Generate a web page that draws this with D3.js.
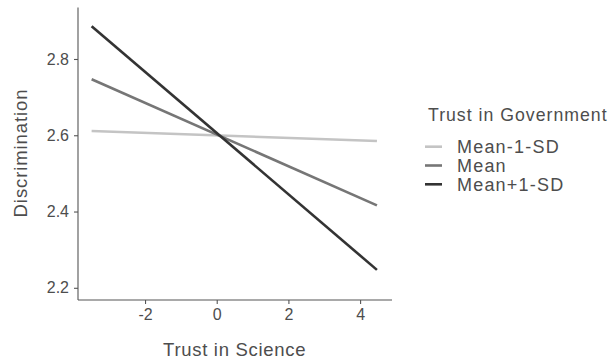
<!DOCTYPE html>
<html>
<head>
<meta charset="utf-8">
<script src="https://cdn.jsdelivr.net/npm/d3@7"></script>
<style>
  body { margin: 0; background: #fff; }
  text { font-family: "Liberation Sans", Arial, sans-serif; }
</style>
</head>
<body>
<div id="vis"></div>
<script>
var w = 614;
var h = 364;

// simple slopes, two ends per level
var levels = ['Mean-1-SD', 'Mean', 'Mean+1-SD'];
var colors = ['#c4c4c4', '#767676', '#333333'];
var xEnds = [-3.49, 4.47];
var yLow = [2.611, 2.585];
var yMid = [2.747, 2.416];
var yHigh = [2.886, 2.247];
var xTicks = [-2, 0, 2, 4];
var yTicks = [2.2, 2.4, 2.6, 2.8];

var series = [yLow, yMid, yHigh];

var margin = {left: 78, right: 222, top: 7.5, bottom: 64};

var svg = d3.select("#vis").append("svg")
    .attr("width", w)
    .attr("height", h);

var x = d3.scaleLinear()
    .domain([-3.87, 4.89])
    .range([margin.left, w - margin.right]);

var y = d3.scaleLinear()
    .domain([2.168, 2.935])
    .range([h - margin.bottom, margin.top]);

var line = d3.line()
    .x(function(d, i) { return x(xEnds[i]); })
    .y(function(d) { return y(d); });

// lines
svg.selectAll(".trend")
    .data(series)
    .enter()
    .append("path")
    .attr("class", "trend")
    .attr("d", line)
    .attr("fill", "none")
    .attr("stroke", function(d, i) { return colors[i]; })
    .attr("stroke-width", 2.6);

// axes (plain hyphen for negatives, like the original)
var xAxis = svg.append("g")
    .attr("transform", "translate(0," + (h - margin.bottom) + ")")
    .call(d3.axisBottom(x).tickValues(xTicks).tickSize(4).tickPadding(5).tickFormat(function(d) { return String(d); }));

var yAxis = svg.append("g")
    .attr("transform", "translate(" + margin.left + ",0)")
    .call(d3.axisLeft(y).tickValues(yTicks).tickSize(4).tickPadding(5).tickFormat(function(d) { return d.toFixed(1); }));

[xAxis, yAxis].forEach(function(a) {
    a.select(".domain").attr("stroke", "#555").attr("stroke-width", 1.1);
    a.selectAll(".tick line").attr("stroke", "#555").attr("stroke-width", 1.1);
    a.selectAll(".tick text")
        .attr("fill", "#4d4d4d")
        .style("font-size", "16px")
        .style("font-family", "'Liberation Sans', Arial, sans-serif");
});

// make the domain a plain line, no end ticks
xAxis.select(".domain").attr("d", "M" + margin.left + ",0H" + (w - margin.right));
yAxis.select(".domain").attr("d", "M0," + margin.top + "V" + (h - margin.bottom));

// axis titles
svg.append("text")
    .attr("x", x(0.5))
    .attr("y", 356)
    .attr("text-anchor", "middle")
    .attr("fill", "#4d4d4d")
    .style("font-size", "18.5px")
    .style("letter-spacing", "0.7px")
    .text("Trust in Science");

svg.append("text")
    .attr("transform", "translate(27," + 153 + ") rotate(-90)")
    .attr("text-anchor", "middle")
    .attr("fill", "#4d4d4d")
    .style("font-size", "18.5px")
    .style("letter-spacing", "0.9px")
    .text("Discrimination");

// legend
var legend = svg.append("g")
    .attr("transform", "translate(425,0)");

legend.append("text")
    .attr("x", 3)
    .attr("y", 121)
    .attr("fill", "#4d4d4d")
    .style("font-size", "17.7px")
    .style("letter-spacing", "1px")
    .text("Trust in Government");

var keys = legend.selectAll(".key")
    .data(levels)
    .enter()
    .append("g")
    .attr("class", "key")
    .attr("transform", function(d, i) { return "translate(0," + (146.7 + i * 18.8) + ")"; });

keys.append("line")
    .attr("x1", 0)
    .attr("x2", 17)
    .attr("stroke", function(d, i) { return colors[i]; })
    .attr("stroke-width", 2.6);

keys.append("text")
    .attr("x", 32)
    .attr("y", 6.3)
    .attr("fill", "#4d4d4d")
    .style("font-size", "18px")
    .style("letter-spacing", "1.2px")
    .text(function(d) { return d; });
</script>
</body>
</html>
